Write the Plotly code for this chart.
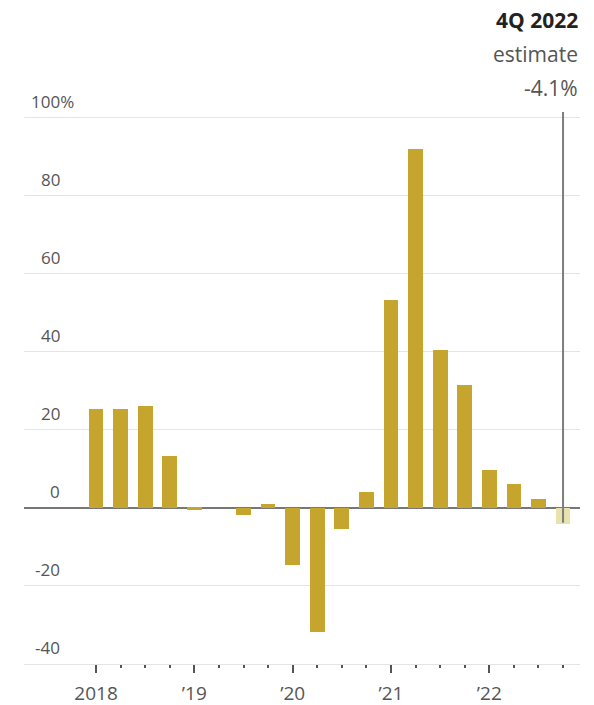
import plotly.graph_objects as go

# Quarterly change, percent (annualized), 1Q 2018 through 4Q 2022
quarters = ["1Q18", "2Q18", "3Q18", "4Q18",
            "1Q19", "2Q19", "3Q19", "4Q19",
            "1Q20", "2Q20", "3Q20", "4Q20",
            "1Q21", "2Q21", "3Q21", "4Q21",
            "1Q22", "2Q22", "3Q22", "4Q22"]
values = [25.3, 25.3, 26.1, 13.3,
          -0.5, 0.0, -1.8, 0.9,
          -14.6, -31.7, -5.4, 4.2,
          53.2, 92.0, 40.4, 31.5,
          9.7, 6.1, 2.3, -4.1]
is_estimate = [False] * 19 + [True]

year_ticks = [0, 4, 8, 12, 16]
year_labels = ["2018", "\u201919", "\u201920", "\u201921", "\u201922"]
y_ticks = [100, 80, 60, 40, 20, 0, -20, -40]
y_labels = ["100%", "80", "60", "40", "20", "0", "-20", "-40"]

BAR = "#c6a52e"
BAR_EST = "#e8e3ad"
TEXT = "#555555"
FONT = "Open Sans"

xs = list(range(len(quarters)))
colors = [BAR_EST if e else BAR for e in is_estimate]
quarter_ticks = [i for i in xs if i not in year_ticks]

fig = go.Figure()
fig.add_trace(go.Bar(
    x=xs, y=values, width=0.6,
    marker=dict(color=colors, line=dict(width=0)),
    hovertext=quarters, hoverinfo="text+y",
))

# estimate marker line
est_idx = is_estimate.index(True)
fig.add_shape(type="line", xref="x", yref="y",
              x0=xs[est_idx], x1=xs[est_idx], y0=-3.8, y1=101.5,
              line=dict(color="#7d7d7d", width=2), layer="above")

# y labels sit above their gridlines, numbers right-aligned
for v, lab in zip(y_ticks, y_labels):
    shift = 52 if lab.endswith("%") else 38
    fig.add_annotation(x=0, xref="paper", y=v, yref="y",
                       text=lab, showarrow=False,
                       xanchor="right", yanchor="bottom",
                       xshift=shift, yshift=3,
                       font=dict(family=FONT, size=17, color=TEXT))

# estimate callout
callout = [("<b>4Q 2022</b>", 92, "#222222"),
           ("estimate", 58, TEXT),
           (f"{values[est_idx]:.1f}%", 24, TEXT)]
for txt, dy, col in callout:
    fig.add_annotation(x=1, xref="paper", y=1, yref="paper",
                       text=txt, showarrow=False,
                       xanchor="right", yanchor="middle",
                       yshift=dy,
                       font=dict(family=FONT, size=21, color=col))

fig.update_layout(
    width=594, height=705,
    margin=dict(l=24, r=14, t=112, b=41, autoexpand=False),
    paper_bgcolor="white", plot_bgcolor="white",
    showlegend=False,
    bargap=0,
    font=dict(family=FONT, color=TEXT),
)
fig.update_xaxes(
    range=[-2.93, 19.69], automargin=False,
    tickmode="array", tickvals=year_ticks, ticktext=year_labels,
    ticks="outside", ticklen=8, tickwidth=1.5, tickcolor="#555555",
    tickfont=dict(family=FONT, size=19, color=TEXT),
    ticklabelstandoff=4,
    minor=dict(tickmode="array", tickvals=quarter_ticks, ticks="outside",
               ticklen=3, tickwidth=1.5, tickcolor="#555555", showgrid=False),
    showgrid=False, zeroline=False,
    showline=True, linecolor="#e4e4e4", linewidth=1,
)
fig.update_yaxes(
    range=[-40, 101.5], automargin=False,
    tickmode="array", tickvals=y_ticks, showticklabels=False,
    showgrid=True, gridcolor="#e4e4e4", gridwidth=1,
    zeroline=True, zerolinecolor="#777777", zerolinewidth=2,
)

fig.write_html("out.html")
